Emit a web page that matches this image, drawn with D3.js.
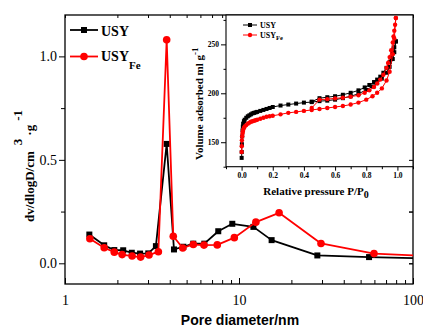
<!DOCTYPE html>
<html><head><meta charset="utf-8">
<script src="https://cdn.jsdelivr.net/npm/d3@7"></script>
<style>body{margin:0;background:#fff}svg{display:block}</style>
</head><body><svg id="c" width="423" height="327"></svg>
<script>
// ---- main chart data (pore size distribution) ----
const poreUSY = [1.38,1.68,1.92,2.16,2.42,2.70,3.01,3.33,3.84,4.23,4.79,5.46,6.32,7.60,9.15,12.1,15.4,28.2,55.9,110];
const dvUSY   = [0.139,0.087,0.064,0.063,0.051,0.047,0.048,0.083,0.577,0.067,0.080,0.095,0.095,0.155,0.191,0.176,0.112,0.038,0.030,0.024];
const poreFe  = [1.39,1.68,1.92,2.13,2.43,2.72,3.04,3.44,3.84,4.19,4.75,5.46,6.29,7.50,9.40,12.5,17.0,29.6,59.7,110];
const dvFe    = [0.119,0.075,0.054,0.042,0.035,0.030,0.040,0.056,1.080,0.131,0.074,0.091,0.088,0.089,0.124,0.199,0.244,0.096,0.047,0.037];
const xMajorTicks = [1,10,100];
const xTickLabels = ["1","10","100"];
const xMinorTicks = [2,3,4,5,6,7,8,9,20,30,40,50,60,70,80,90];
const yMajorTicks = [0,0.5,1.0];
const yTickLabels = ["0.0","0.5","1.0"];
const yMinorTicks = [0.25,0.75];

// ---- inset data (N2 isotherms) ----
const adsP = [0.0005,0.001,0.002,0.004,0.006,0.008,0.01,0.015,0.02,0.03,0.04,0.05,0.06,0.07,0.08,0.09,0.10,0.12,0.14,0.16,0.18,0.20,0.25,0.30,0.35,0.40,0.45,0.50,0.55,0.60,0.65,0.70,0.75,0.80,0.84,0.87,0.90,0.93,0.95,0.97,0.98,0.99];
const usyAdsV = [134,140,148,156,162,166,169,171.5,173,175,176.5,177.5,178.5,179.5,180,180.5,181,182,183,184,185,186,187.5,188.5,189.5,190.5,191,192,192.5,193.5,195,197,199.5,203.5,207,210.5,215,221,227,235,242,253];
const feAdsV  = [140,146,152,156,159,161,162.5,164.5,166,167.5,169,170,171,171.5,172,172.5,173,174,175,176,176.5,177,178.5,180,181,182,183,184,185,186,187,188.5,190.5,193.5,197,200.5,205,213,222,240,256,277];
const usyDesP = [0.99,0.98,0.97,0.96,0.95,0.93,0.91,0.89,0.87,0.85,0.82,0.79,0.75,0.70,0.65,0.60,0.55,0.50,0.45];
const usyDesV = [253,247,241,236.5,232,226,221,217,214,211.5,208.5,206,203,200.5,198.5,197,196,195,191.5];
const feDesP  = [0.99,0.985,0.98,0.975,0.97,0.96,0.95,0.94,0.93,0.91,0.89,0.87,0.85,0.82,0.79,0.75,0.70,0.65,0.60,0.55,0.50,0.45];
const feDesV  = [277,270,264,258,252,244,237,231,226,219,214,210,206.5,203,200.5,198,196.5,195.5,194.8,194,193.5,185];
const ixMajor = [0,0.2,0.4,0.6,0.8,1.0];
const ixLabels = ["0.0","0.2","0.4","0.6","0.8","1.0"];
const ixMinor = [-0.1,0.1,0.3,0.5,0.7,0.9,1.1];
const iyMajor = [150,200,250];
const iyMinor = [125,175,225,275];

const RED = "#ff0000", BLK = "#000000";
const SERIF = "'Liberation Serif','Times New Roman',serif";
const SANS = "'Liberation Sans',Arial,sans-serif";

const svg = d3.select("#c");
const L = 65, R = 413, T = 15, B = 284;
const x = d3.scaleLog().domain([1,100]).range([L,R]);
const y = d3.scaleLinear().domain([-0.1,1.2]).range([B,T]);

svg.append("defs").append("clipPath").attr("id","clipMain")
  .append("rect").attr("x",L).attr("y",T).attr("width",R-L).attr("height",B-T);

function styleAxis(g){ g.select(".domain").remove(); g.selectAll("line").attr("stroke","#000").attr("stroke-width",1); }

// bottom axis (inward ticks)
svg.append("g").attr("transform",`translate(0,${B})`)
  .call(d3.axisBottom(x).tickValues(xMajorTicks).tickSize(-6).tickPadding(11).tickFormat((d,i)=>xTickLabels[i]))
  .call(styleAxis).call(g=>g.selectAll("text").attr("font-family",SERIF).attr("font-size",14).attr("fill","#000"));
svg.append("g").attr("transform",`translate(0,${B})`)
  .call(d3.axisBottom(x).tickValues(xMinorTicks).tickSize(-4).tickFormat(""))
  .call(styleAxis);
// top mirror
svg.append("g").attr("transform",`translate(0,${T})`)
  .call(d3.axisBottom(x).tickValues(xMajorTicks.concat(xMinorTicks)).tickSize(3).tickFormat(""))
  .call(styleAxis);
// left axis
svg.append("g").attr("transform",`translate(${L},0)`)
  .call(d3.axisLeft(y).tickValues(yMajorTicks).tickSize(6).tickPadding(2).tickFormat((d,i)=>yTickLabels[i]))
  .call(styleAxis).call(g=>g.selectAll("text").attr("font-family",SERIF).attr("font-size",14).attr("fill","#000"));
svg.append("g").attr("transform",`translate(${L},0)`)
  .call(d3.axisLeft(y).tickValues(yMinorTicks).tickSize(4).tickFormat(""))
  .call(styleAxis);
// right mirror (inward)
svg.append("g").attr("transform",`translate(${R},0)`)
  .call(d3.axisLeft(y).tickValues(yMajorTicks.concat(yMinorTicks)).tickSize(4).tickFormat(""))
  .call(styleAxis);

svg.append("rect").attr("x",L).attr("y",T).attr("width",R-L).attr("height",B-T)
  .attr("fill","none").attr("stroke","#000").attr("stroke-width",1.3);

// main series
function drawMain(xs, ys, color, shape){
  const data = xs.map((d,i)=>({d, v: ys[i]}));
  const g = svg.append("g").attr("clip-path","url(#clipMain)");
  g.append("path").datum(data)
    .attr("d", d3.line().x(p=>x(p.d)).y(p=>y(p.v)))
    .attr("fill","none").attr("stroke",color).attr("stroke-width",1.8).attr("stroke-linejoin","round");
  if(shape==="sq"){
    g.selectAll("rect.m").data(data).join("rect")
      .attr("x",p=>x(p.d)-3).attr("y",p=>y(p.v)-3).attr("width",6).attr("height",6).attr("fill",color);
  } else {
    g.selectAll("circle.m").data(data).join("circle")
      .attr("cx",p=>x(p.d)).attr("cy",p=>y(p.v)).attr("r",3.8).attr("fill",color);
  }
}
drawMain(poreUSY, dvUSY, BLK, "sq");
drawMain(poreFe, dvFe, RED, "ci");

// main legend
const lg = svg.append("g");
lg.append("line").attr("x1",70).attr("x2",98).attr("y1",30).attr("y2",30).attr("stroke",BLK).attr("stroke-width",1.8);
lg.append("rect").attr("x",81).attr("y",27).attr("width",6).attr("height",6).attr("fill",BLK);
lg.append("text").attr("x",101).attr("y",35.5).attr("font-family",SERIF).attr("font-weight","bold").attr("font-size",14).text("USY");
lg.append("line").attr("x1",70).attr("x2",98).attr("y1",56.5).attr("y2",56.5).attr("stroke",RED).attr("stroke-width",1.8);
lg.append("circle").attr("cx",84).attr("cy",56.5).attr("r",3.8).attr("fill",RED);
const lt = lg.append("text").attr("x",101).attr("y",61).attr("font-family",SERIF).attr("font-weight","bold").attr("font-size",14);
lt.append("tspan").text("USY");
lt.append("tspan").attr("dy",8).attr("font-size",11).text("Fe");

// main axis titles
svg.append("text").attr("x",240).attr("y",325).attr("text-anchor","middle")
  .attr("font-family",SANS).attr("font-weight","bold").attr("font-size",14).text("Pore diameter/nm");
const yt = svg.append("text").attr("transform","translate(34,222) rotate(-90)")
  .attr("font-family",SERIF).attr("font-weight","bold").attr("font-size",13);
yt.append("tspan").text("dv/dlogD/cm");
yt.append("tspan").attr("dx",6).attr("dy",-12).text("3");
yt.append("tspan").attr("dx",3).attr("dy",12).text("·g");
yt.append("tspan").attr("dx",4).attr("dy",-12).text("-1");

// ---- inset ----
const IL = 226, IR = 413, IT = 15, IB = 166.7;
const xi = d3.scaleLinear().domain([-0.1,1.1]).range([IL,IR]);
const yi = d3.scaleLinear().domain([125,280]).range([IB,IT]);
svg.append("rect").attr("x",IL).attr("y",IT).attr("width",IR-IL).attr("height",IB-IT)
  .attr("fill","#fff").attr("stroke","none");
svg.append("defs").append("clipPath").attr("id","clipIn")
  .append("rect").attr("x",IL).attr("y",IT-3).attr("width",IR-IL).attr("height",IB-IT+3);

svg.append("g").attr("transform",`translate(0,${IB})`)
  .call(d3.axisBottom(xi).tickValues(ixMajor).tickSize(4).tickPadding(2).tickFormat((d,i)=>ixLabels[i]))
  .call(styleAxis).call(g=>g.selectAll("text").attr("font-family",SERIF).attr("font-weight","bold").attr("font-size",7.5).attr("fill","#000"));
svg.append("g").attr("transform",`translate(0,${IB})`)
  .call(d3.axisBottom(xi).tickValues(ixMinor).tickSize(2.5).tickFormat(""))
  .call(styleAxis);
svg.append("g").attr("transform",`translate(${IL},0)`)
  .call(d3.axisLeft(yi).tickValues(iyMajor).tickSize(5).tickPadding(2))
  .call(styleAxis).call(g=>g.selectAll("text").attr("font-family",SERIF).attr("font-weight","bold").attr("font-size",7.5).attr("fill","#000"));
svg.append("g").attr("transform",`translate(${IL},0)`)
  .call(d3.axisLeft(yi).tickValues(iyMinor).tickSize(2.5).tickFormat(""))
  .call(styleAxis);
svg.append("rect").attr("x",IL).attr("y",IT).attr("width",IR-IL).attr("height",IB-IT)
  .attr("fill","none").attr("stroke","#000").attr("stroke-width",1.1);
// right mirror ticks of main axis again over inset border
svg.append("g").attr("transform",`translate(${R},0)`)
  .call(d3.axisLeft(y).tickValues(yMajorTicks.concat(yMinorTicks)).tickSize(4).tickFormat(""))
  .call(styleAxis);

function drawIso(ps, vs, color, shape){
  const data = ps.map((p,i)=>({p, v: vs[i]}));
  const g = svg.append("g").attr("clip-path","url(#clipIn)");
  g.append("path").datum(data).attr("d", d3.line().x(q=>xi(q.p)).y(q=>yi(q.v)))
    .attr("fill","none").attr("stroke",color).attr("stroke-width",1);
  if(shape==="sq"){
    g.selectAll("rect.m").data(data).join("rect")
      .attr("x",q=>xi(q.p)-2).attr("y",q=>yi(q.v)-2).attr("width",4).attr("height",4).attr("fill",color);
  } else {
    g.selectAll("circle.m").data(data).join("circle")
      .attr("cx",q=>xi(q.p)).attr("cy",q=>yi(q.v)).attr("r",2.2).attr("fill",color);
  }
}
drawIso(adsP, usyAdsV, BLK, "sq");
drawIso(usyDesP, usyDesV, BLK, "sq");
drawIso(adsP, feAdsV, RED, "ci");
drawIso(feDesP, feDesV, RED, "ci");

// inset legend
const il = svg.append("g");
il.append("line").attr("x1",243).attr("x2",257).attr("y1",25).attr("y2",25).attr("stroke",BLK).attr("stroke-width",1);
il.append("rect").attr("x",248).attr("y",23).attr("width",4).attr("height",4).attr("fill",BLK);
il.append("text").attr("x",260).attr("y",28).attr("font-family",SERIF).attr("font-weight","bold").attr("font-size",8).text("USY");
il.append("line").attr("x1",243).attr("x2",257).attr("y1",35).attr("y2",35).attr("stroke",RED).attr("stroke-width",1);
il.append("circle").attr("cx",250).attr("cy",35).attr("r",2.2).attr("fill",RED);
const ilt = il.append("text").attr("x",260).attr("y",37.8).attr("font-family",SERIF).attr("font-weight","bold").attr("font-size",8);
ilt.append("tspan").text("USY");
ilt.append("tspan").attr("dy",2.5).attr("font-size",6.5).text("Fe");

// inset titles
const ixt = svg.append("text").attr("x",316).attr("y",195).attr("text-anchor","middle")
  .attr("font-family",SERIF).attr("font-weight","bold").attr("font-size",11);
ixt.append("tspan").text("Relative pressure P/P");
ixt.append("tspan").attr("dy",3).attr("font-size",10).text("0");
const iyt = svg.append("text").attr("transform","translate(203,160) rotate(-90)")
  .attr("font-family",SERIF).attr("font-weight","bold").attr("font-size",11);
iyt.append("tspan").text("Volume adsorbed ml g");
iyt.append("tspan").attr("dy",-5).attr("font-size",9).text("-1");
</script>
</body></html>
